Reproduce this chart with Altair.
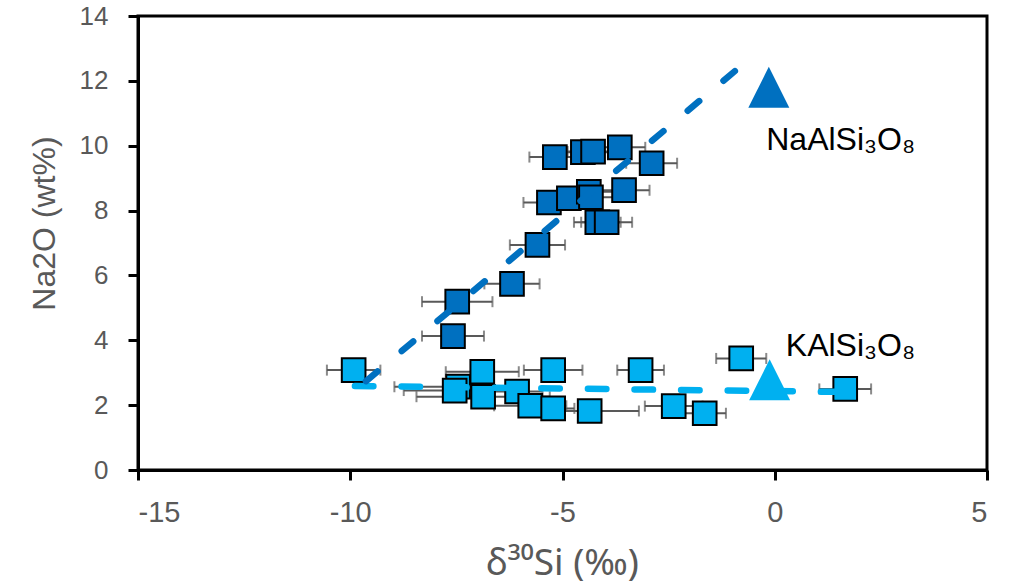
import altair as alt
import pandas as pd

# Upper (Na-rich) cluster
na_x = [-5.18, -4.52, -4.28, -3.65, -2.90, -5.32, -4.85, -4.38, -4.33, -3.55, -4.18, -3.96, -5.59, -6.19, -7.48, -7.58]
na_y = [9.65, 9.80, 9.82, 9.95, 9.46, 8.25, 8.38, 8.58, 8.41, 8.63, 7.64, 7.64, 6.94, 5.74, 5.19, 4.13]
na_err = [0.60, 0.70, 0.60, 0.60, 0.60, 0.60, 0.60, 0.60, 0.60, 0.60, 0.55, 0.60, 0.65, 0.65, 0.83, 0.73]

# Lower (K-rich) cluster
k_x = [-9.92, -7.46, -7.54, -6.89, -6.87, -6.07, -5.76, -5.22, -5.22, -4.36, -3.16, -2.38, -1.65, -0.79, 1.66]
k_y = [3.08, 2.57, 2.45, 3.03, 2.26, 2.42, 1.98, 3.08, 1.90, 1.82, 3.08, 1.97, 1.75, 3.44, 2.50]
k_err = [0.63, 1.50, 1.20, 0.86, 1.57, 0.60, 0.85, 0.69, 0.50, 1.16, 0.55, 0.68, 0.50, 0.59, 0.61]

# Trend lines
na_line_x = [-9.63, -0.94]
na_line_y = [2.74, 12.3]
k_line_x = [-9.89, 1.52]
k_line_y = [2.59, 2.41]

# End members
em_x = [-0.14, -0.12]
em_y = [11.8, 2.78]
em_group = ["Na", "K"]

# Labels
lab_text = ["NaAlSi₃O₈", "KAlSi₃O₈"]
lab_x = [-0.2, 0.26]
lab_y = [9.87, 3.52]

DARK = "#0070C0"
LIGHT = "#00B0F0"
BAR = "#595959"

na_df = pd.DataFrame({"x": na_x, "y": na_y, "lo": [a - e for a, e in zip(na_x, na_err)], "hi": [a + e for a, e in zip(na_x, na_err)]})
k_df = pd.DataFrame({"x": k_x, "y": k_y, "lo": [a - e for a, e in zip(k_x, k_err)], "hi": [a + e for a, e in zip(k_x, k_err)]})

xs = alt.Scale(domain=[-15, 5], nice=False, zero=False)
ys = alt.Scale(domain=[0, 14], nice=False, zero=False)

xax = alt.Axis(values=[-15, -10, -5, 0, 5], labelExpr="'' + datum.value", title="δ³⁰Si (‰)",
               titleX=424, titleY=93, titleBaseline="middle", titleAlign="center",
               titleFont="Noto Sans", titleFontSize=37)
yax = alt.Axis(values=[0, 2, 4, 6, 8, 10, 12, 14], title="Na2O (wt%)",
               titleX=-94, titleY=207, titleBaseline="middle", titleAlign="center", titleAngle=-90)

X = lambda f: alt.X(f, type="quantitative", scale=xs, axis=xax)
Y = lambda f: alt.Y(f, type="quantitative", scale=ys, axis=yax)


def errbars(df):
    base = alt.Chart(df)
    rule = base.mark_rule(color=BAR, strokeWidth=2).encode(x=X("lo"), x2="hi", y=Y("y"))
    cap_lo = base.mark_tick(color=BAR, thickness=2, size=11, orient="vertical").encode(x=X("lo"), y=Y("y"))
    cap_hi = base.mark_tick(color=BAR, thickness=2, size=11, orient="vertical").encode(x=X("hi"), y=Y("y"))
    return [rule, cap_lo, cap_hi]


def squares(df, color):
    return alt.Chart(df).mark_point(shape="square", size=560, filled=True, fill=color, stroke="black",
                                    strokeWidth=2, opacity=1, fillOpacity=1).encode(x=X("x"), y=Y("y"))


na_line = alt.Chart(pd.DataFrame({"x": na_line_x, "y": na_line_y})).mark_line(
    color=DARK, strokeWidth=6.5, strokeDash=[15, 31.7], strokeCap="round").encode(x=X("x"), y=Y("y"))
k_line = alt.Chart(pd.DataFrame({"x": k_line_x, "y": k_line_y})).mark_line(
    color=LIGHT, strokeWidth=6.5, strokeDash=[18.5, 28.1], strokeCap="round").encode(x=X("x"), y=Y("y"))

em = alt.Chart(pd.DataFrame({"x": em_x, "y": em_y, "g": em_group})).mark_point(
    shape="M0,-1L-1,1L1,1Z", size=1681, filled=True, opacity=1, strokeWidth=0).encode(
    x=X("x"), y=Y("y"),
    color=alt.Color("g:N", scale=alt.Scale(domain=["Na", "K"], range=[DARK, LIGHT]), legend=None))

labels = alt.Chart(pd.DataFrame({"t": lab_text, "x": lab_x, "y": lab_y})).mark_text(
    align="left", baseline="alphabetic", fontSize=32, font="Liberation Sans", color="black").encode(
    x=X("x"), y=Y("y"), text="t:N")

layers = errbars(k_df) + errbars(na_df) + [squares(k_df, LIGHT), squares(na_df, DARK), k_line, na_line, em, labels]

chart = alt.layer(*layers).properties(
    width=849, height=454,
    autosize=alt.AutoSizeParams(type="none"),
    padding={"left": 138, "top": 16, "right": 36, "bottom": 117},
    background="white",
).configure_view(stroke="black", strokeWidth=3).configure_axis(
    grid=False, domainColor="black", domainWidth=3, tickColor="black", tickWidth=3, tickSize=10,
    labelFont="Liberation Sans", labelColor="#595959",
    titleFont="Liberation Sans", titleFontSize=32, titleColor="#595959", titleFontWeight="normal",
).configure_axisX(labelPadding=18, labelFontSize=29).configure_axisY(labelPadding=20, labelFontSize=26)

chart.save("out.html", embed_options={"renderer": "svg", "actions": False})
